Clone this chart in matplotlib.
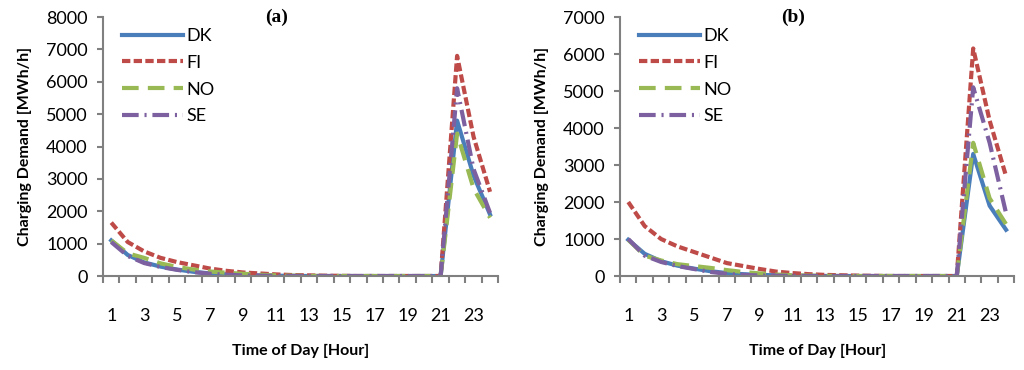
import numpy as np
import matplotlib
matplotlib.use("Agg")
import matplotlib.pyplot as plt

plt.rcParams['font.family'] = ['Lato', 'DejaVu Sans']

hours = np.arange(1, 25)

# panel (a)
dk_a = [1100, 650, 420, 290, 200, 130, 80, 50, 30, 20, 10, 5, 0, 0, 0, 0, 0, 0, 0, 0, 0, 4800, 3100, 1900]
fi_a = [1650, 1050, 760, 560, 430, 330, 230, 160, 110, 80, 50, 30, 20, 10, 5, 0, 0, 0, 0, 0, 0, 6800, 4300, 2600]
no_a = [1100, 700, 560, 390, 280, 200, 140, 100, 70, 40, 20, 10, 5, 0, 0, 0, 0, 0, 0, 0, 0, 4400, 2700, 1800]
se_a = [1050, 620, 400, 280, 190, 120, 70, 40, 20, 10, 5, 0, 0, 0, 0, 0, 0, 0, 0, 0, 0, 5800, 3300, 1950]

# panel (b)
dk_b = [980, 600, 400, 280, 200, 130, 80, 50, 30, 20, 10, 5, 0, 0, 0, 0, 0, 0, 0, 0, 0, 3300, 1900, 1250]
fi_b = [2000, 1350, 1000, 800, 650, 500, 350, 270, 190, 120, 80, 50, 30, 20, 10, 5, 0, 0, 0, 0, 0, 6150, 4200, 2700]
no_b = [980, 550, 420, 320, 270, 220, 160, 110, 70, 40, 20, 10, 5, 0, 0, 0, 0, 0, 0, 0, 0, 3600, 2100, 1400]
se_b = [1000, 550, 380, 270, 190, 110, 60, 30, 15, 10, 5, 0, 0, 0, 0, 0, 0, 0, 0, 0, 0, 5100, 3600, 1700]

names = ['DK', 'FI', 'NO', 'SE']
colors = ['#4A7EBB', '#BE4B48', '#98B954', '#7D60A0']
styles = ['-', (0, (2.0, 0.8)), (0, (4.0, 2.2)), (0, (4.0, 1.4, 0.5, 1.4))]

fig = plt.figure(figsize=(10.24, 3.7), dpi=100)
ax1 = fig.add_axes([0.1006, 0.254, 0.386, 0.70])
ax2 = fig.add_axes([0.6055, 0.254, 0.385, 0.70])

panels = [(ax1, [dk_a, fi_a, no_a, se_a], 8000, '(a)'),
          (ax2, [dk_b, fi_b, no_b, se_b], 7000, '(b)')]

for ax, series, ymax, title in panels:
    for vals, name, c, ls in zip(series, names, colors, styles):
        ax.plot(hours, vals, color=c, linestyle=ls, lw=3.0, label=name)
    ax.set_xlim(0.5, 24.5)
    ax.set_ylim(0, ymax)
    ax.set_yticks(np.arange(0, ymax + 1, 1000))
    ax.set_xticks(np.arange(0.5, 25, 1), minor=False)
    ax.set_xticklabels([])
    ax.set_xticks(np.arange(1, 25, 2), minor=True)
    ax.set_xticklabels([str(h) for h in range(1, 25, 2)], minor=True)
    ax.tick_params(axis='x', which='major', length=5, width=1.5, color='#808080', direction='out')
    ax.tick_params(axis='x', which='minor', length=0, pad=23, labelsize=13)
    ax.tick_params(axis='y', length=4, width=1.5, color='#808080', labelsize=13, pad=7)
    for s in ['top', 'right']:
        ax.spines[s].set_visible(False)
    for s in ['left', 'bottom']:
        ax.spines[s].set_color('#808080')
        ax.spines[s].set_linewidth(1.5)
    ax.set_ylabel('Charging Demand [MWh/h]', fontsize=11.5, fontweight='bold', labelpad=10)
    ax.set_xlabel('Time of Day [Hour]', fontsize=11.5, fontweight='bold', labelpad=14)
    ax.text(0.44, 1.0, title, transform=ax.transAxes, ha='center', va='center',
            fontsize=14, fontweight='bold', family='Liberation Serif')
    ax.legend(loc='upper left', bbox_to_anchor=(0.02, 1.0), frameon=False, fontsize=13,
              handlelength=3.4, labelspacing=0.6, handletextpad=0.2, borderaxespad=0.2)

fig.savefig('out.png', dpi=100)
